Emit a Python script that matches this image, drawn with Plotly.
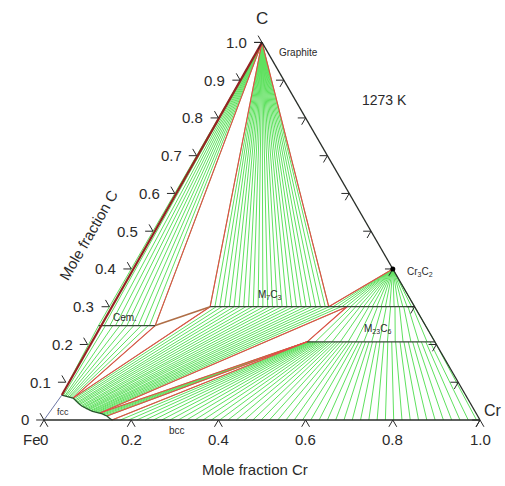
import math
import plotly.graph_objects as go

S3 = math.sqrt(3) / 2

# ---------------- data (mole fraction Cr, mole fraction C) ----------------
GRAPHITE = (0.0, 1.0)
CR3C2 = (0.6, 0.4)
CEM_C = 0.25
M7C3_C = 0.30
M23C6_C = 0.207
CEM_RANGE = [0.0, 0.13]
M7C3_RANGE = [0.231, 0.70]
M23C6_RANGE = [0.50, 0.793]

# fcc phase boundary
FCC_CR = [0.008, 0.015, 0.022, 0.030, 0.0375, 0.045, 0.052, 0.060, 0.068, 0.076, 0.084,
          0.092, 0.100, 0.108, 0.119, 0.126, 0.133, 0.139, 0.147, 0.156]
FCC_C = [0.066, 0.064, 0.062, 0.060, 0.058, 0.053, 0.047, 0.042, 0.037, 0.033, 0.029,
         0.026, 0.023, 0.021, 0.0185, 0.016, 0.013, 0.0106, 0.005, 0.0]

# tie lines graphite + cementite (Cr of cementite end)
GR_CEM_CR = [0.0, 0.013, 0.026, 0.039, 0.052, 0.065, 0.078, 0.091, 0.104, 0.117, 0.13]
# tie lines graphite + M7C3 (Cr of M7C3 end)
GR_M7_CR = [0.231, 0.242, 0.253, 0.264, 0.275, 0.286, 0.297, 0.308, 0.319, 0.330, 0.341,
            0.352, 0.363, 0.374, 0.385, 0.396, 0.407, 0.418, 0.429, 0.440, 0.451, 0.462,
            0.473, 0.484, 0.495, 0.503]
# tie lines Cr3C2 + M7C3 (Cr of M7C3 end)
CR3C2_M7_CR = [0.503, 0.513, 0.523, 0.533, 0.543, 0.553, 0.563, 0.573, 0.583, 0.593, 0.603,
               0.613, 0.623, 0.633, 0.643, 0.653, 0.663, 0.673, 0.683, 0.693, 0.70]
# tie lines M7C3 + M23C6
M7_M23_A = [0.545, 0.555, 0.565, 0.575, 0.585, 0.595, 0.605, 0.615, 0.625, 0.635, 0.645,
            0.655, 0.665, 0.675, 0.685, 0.695, 0.70]
M7_M23_B = [0.500, 0.519, 0.538, 0.557, 0.576, 0.594, 0.612, 0.630, 0.648, 0.666, 0.684,
            0.702, 0.720, 0.738, 0.756, 0.775, 0.793]
# tie lines fcc + cementite
FCC_CEM_CR = [0.008, 0.012, 0.016, 0.019, 0.023, 0.027, 0.030, 0.034, 0.038]
FCC_CEM_C = [0.066, 0.065, 0.064, 0.063, 0.062, 0.061, 0.060, 0.059, 0.058]
CEM_FCC_CR = [0.0, 0.016, 0.033, 0.049, 0.065, 0.081, 0.098, 0.114, 0.13]
# tie lines fcc + M7C3
FCC_M7_CR = [0.038, 0.041, 0.045, 0.048, 0.052, 0.055, 0.059, 0.062, 0.066, 0.069, 0.073,
             0.076, 0.080, 0.083, 0.087, 0.090, 0.094, 0.097, 0.101, 0.104, 0.108, 0.111,
             0.115, 0.119]
FCC_M7_C = [0.058, 0.056, 0.053, 0.050, 0.047, 0.045, 0.043, 0.041, 0.038, 0.036, 0.034,
            0.033, 0.031, 0.029, 0.028, 0.027, 0.025, 0.024, 0.023, 0.022, 0.021, 0.020,
            0.019, 0.0185]
M7_FCC_CR = [0.231, 0.245, 0.258, 0.272, 0.286, 0.299, 0.313, 0.327, 0.340, 0.354, 0.368,
             0.381, 0.395, 0.409, 0.422, 0.436, 0.450, 0.463, 0.477, 0.490, 0.504, 0.518,
             0.531, 0.545]
# tie lines fcc + M23C6
FCC_M23_CR = [0.119, 0.123, 0.127, 0.131, 0.135, 0.139]
FCC_M23_C = [0.0185, 0.017, 0.0155, 0.014, 0.012, 0.0106]
# tie lines bcc + M23C6
BCC_CR = [0.156, 0.175, 0.194, 0.213, 0.232, 0.251, 0.270, 0.289, 0.308, 0.327, 0.346,
          0.365, 0.384, 0.403, 0.422, 0.441, 0.460, 0.479, 0.498, 0.517, 0.536, 0.555,
          0.574, 0.593, 0.612, 0.631, 0.650, 0.669, 0.688, 0.707, 0.726, 0.745, 0.764,
          0.783, 0.802, 0.821, 0.840, 0.859, 0.878, 0.897, 0.916, 0.935, 0.954, 0.973, 0.992]
M23_BCC_CR = [0.500, 0.501, 0.502, 0.504, 0.506, 0.509, 0.512, 0.515, 0.519, 0.523, 0.527,
              0.532, 0.537, 0.542, 0.547, 0.552, 0.558, 0.564, 0.570, 0.576, 0.583, 0.590,
              0.597, 0.604, 0.611, 0.619, 0.626, 0.634, 0.642, 0.650, 0.659, 0.667, 0.676,
              0.685, 0.694, 0.703, 0.713, 0.722, 0.732, 0.742, 0.752, 0.762, 0.772, 0.782, 0.793]

# invariant (three-phase) compositions
FCC_A = (0.0375, 0.058)
FCC_B = (0.119, 0.0185)
FCC_C3 = (0.139, 0.0106)
BCC_A = (0.156, 0.0)

LEFT_TICKS = [0.0, 0.1, 0.2, 0.3, 0.4, 0.5, 0.6, 0.7, 0.8, 0.9, 1.0]
LEFT_LABELS = ["0", "0.1", "0.2", "0.3", "0.4", "0.5", "0.6", "0.7", "0.8", "0.9", "1.0"]
BOTTOM_TICKS = [0.0, 0.2, 0.4, 0.6, 0.8, 1.0]
BOTTOM_LABELS = ["0", "0.2", "0.4", "0.6", "0.8", "1.0"]
RIGHT_TICKS = [0.0, 0.1, 0.2, 0.3, 0.4, 0.5, 0.6, 0.7, 0.8, 0.9, 1.0]


def xy(cr, c):
    return cr + c / 2.0, c * S3


class Seg:
    def __init__(self):
        self.x, self.y = [], []

    def add(self, a, b):
        xa, ya = xy(*a)
        xb, yb = xy(*b)
        self.x += [xa, xb, None]
        self.y += [ya, yb, None]

    def addxy(self, pa, pb):
        self.x += [pa[0], pb[0], None]
        self.y += [pa[1], pb[1], None]


green = Seg()
for cr in GR_CEM_CR:
    green.add(GRAPHITE, (cr, CEM_C))
for cr in GR_M7_CR:
    green.add(GRAPHITE, (cr, M7C3_C))
for cr in CR3C2_M7_CR:
    green.add(CR3C2, (cr, M7C3_C))
for a, b in zip(M7_M23_A, M7_M23_B):
    green.add((a, M7C3_C), (b, M23C6_C))
for cr, c, m in zip(FCC_CEM_CR, FCC_CEM_C, CEM_FCC_CR):
    green.add((cr, c), (m, CEM_C))
for cr, c, m in zip(FCC_M7_CR, FCC_M7_C, M7_FCC_CR):
    green.add((cr, c), (m, M7C3_C))
for cr, c in zip(FCC_M23_CR, FCC_M23_C):
    green.add((cr, c), (M23C6_RANGE[0], M23C6_C))
for b, m in zip(BCC_CR, M23_BCC_CR):
    green.add((b, 0.0), (m, M23C6_C))

red = Seg()
cem_end = (CEM_RANGE[1], CEM_C)
m7_left = (M7C3_RANGE[0], M7C3_C)
m7_gr = (GR_M7_CR[-1], M7C3_C)
m7_b = (M7_M23_A[0], M7C3_C)
m23_left = (M23C6_RANGE[0], M23C6_C)
red.add(GRAPHITE, cem_end)
red.add(GRAPHITE, m7_left)
red.add(GRAPHITE, m7_gr)
red.add(m7_gr, CR3C2)
red.add(FCC_A, cem_end)
red.add(FCC_A, m7_left)
red.add(FCC_B, m7_b)
red.add(FCC_B, m23_left)
red.add(m7_b, m23_left)
red.add(FCC_C3, m23_left)
red.add(BCC_A, m23_left)

phase = Seg()
phase.add((CEM_RANGE[0], CEM_C), cem_end)
phase.add(m7_left, (M7C3_RANGE[1], M7C3_C))
phase.add(m23_left, (M23C6_RANGE[1], M23C6_C))

brown = Seg()
brown.add(cem_end, m7_left)

edges = Seg()
edges.add((0, 0), (1, 0))
edges.add((1, 0), (0, 1))

L = 0.018
ticks = Seg()
for c in LEFT_TICKS:
    p = xy(0.0, c)
    ticks.addxy(p, (p[0] - L, p[1]))
    ticks.addxy(p, (p[0] - L / 2, p[1] + L * S3))
for cr in BOTTOM_TICKS:
    p = xy(cr, 0.0)
    ticks.addxy(p, (p[0] - L / 2, p[1] - L * S3))
    ticks.addxy(p, (p[0] + L / 2, p[1] - L * S3))
for c in RIGHT_TICKS:
    p = xy(1.0 - c, c)
    ticks.addxy(p, (p[0] - L, p[1]))
    ticks.addxy(p, (p[0] - L / 2, p[1] - L * S3))

fig = go.Figure()


def line(seg, color, width):
    fig.add_trace(go.Scatter(x=seg.x, y=seg.y, mode="lines", hoverinfo="skip",
                             line=dict(color=color, width=width), showlegend=False))


line(green, "rgb(95,225,95)", 1.0)
line(red, "rgb(232,70,70)", 1.1)
line(brown, "rgb(175,110,70)", 1.6)
line(phase, "rgb(55,70,55)", 1.3)

fx, fy = zip(*[xy(a, b) for a, b in zip(FCC_CR, FCC_C)])
fig.add_trace(go.Scatter(x=fx, y=fy, mode="lines", hoverinfo="skip",
                         line=dict(color="rgb(40,85,45)", width=1.3), showlegend=False))

# Fe-C edge: lower part (fcc boundary) and upper part (graphite two-phase)
p0 = xy(0, 0)
p1 = xy(FCC_CR[0], FCC_C[0])
p2 = xy(*GRAPHITE)
fig.add_trace(go.Scatter(x=[p0[0], p1[0]], y=[p0[1], p1[1]], mode="lines", hoverinfo="skip",
                         line=dict(color="rgb(110,120,165)", width=1), showlegend=False))
fig.add_trace(go.Scatter(x=[p1[0], p2[0]], y=[p1[1], p2[1]], mode="lines", hoverinfo="skip",
                         line=dict(color="rgb(150,35,35)", width=2.2), showlegend=False))
line(edges, "rgb(40,45,40)", 1.3)
line(ticks, "rgb(40,40,40)", 1.0)

cx, cy = xy(*CR3C2)
fig.add_trace(go.Scatter(x=[cx], y=[cy], mode="markers", hoverinfo="skip",
                         marker=dict(color="black", size=5), showlegend=False))

FONT = "Liberation Sans, Arial, sans-serif"
ann = []


def text(x, y, s, size, xanchor="center", yanchor="middle", angle=0, color="#2a2a2a"):
    ann.append(dict(x=x, y=y, xref="x", yref="y", text=s, showarrow=False,
                    xanchor=xanchor, yanchor=yanchor, textangle=angle,
                    font=dict(family=FONT, size=size, color=color)))


PX = 1 / 436.0
for c, lab in zip(LEFT_TICKS, LEFT_LABELS):
    p = xy(0.0, c)
    text(p[0] - 13 * PX, p[1], lab, 15, xanchor="right")
for cr, lab in zip(BOTTOM_TICKS, BOTTOM_LABELS):
    p = xy(cr, 0.0)
    text(p[0], p[1] - 20 * PX, lab, 15)
text(-1 * PX, -20 * PX, "Fe", 15, xanchor="right")
text(0.5, S3 + 24 * PX, "C", 17)
text(1.0 + 24 * PX, 9 * PX, "Cr", 16, xanchor="right")
text(0.484, -50 * PX, "Mole fraction Cr", 15)
text(0.101, 0.424, "Mole fraction C", 15, angle=-60)
text(0.534, 0.844, "Graphite", 10, xanchor="left")
text(0.782, 0.734, "1273 K", 14)
text(0.828, 0.339, "Cr<sub>3</sub>C<sub>2</sub>", 10, xanchor="left")
text(0.518, 0.286, "M<sub>7</sub>C<sub>3</sub>", 10)
text(0.766, 0.208, "M<sub>23</sub>C<sub>6</sub>", 10)
text(0.186, 0.236, "Cem.", 10)
text(0.305, -0.023, "bcc", 10)
text(0.043, 0.019, "fcc", 9)

fig.update_layout(
    width=505, height=486, autosize=False,
    margin=dict(l=0, r=0, t=0, b=0),
    paper_bgcolor="white", plot_bgcolor="white",
    xaxis=dict(range=[-0.1009, 1.0573], visible=False, fixedrange=True),
    yaxis=dict(range=[-0.1514, 0.9633], visible=False, fixedrange=True),
    annotations=ann,
)
fig.write_html("out.html", config={"displayModeBar": False},
               post_script="document.body.style.margin='0px';document.body.style.overflow='hidden';")
